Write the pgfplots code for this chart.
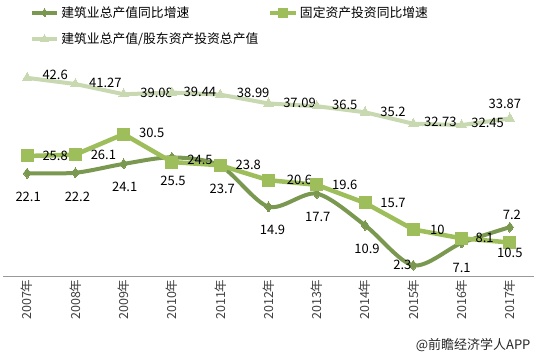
\documentclass[border=0pt]{standalone}
\usepackage{pgfplots}
\pgfplotsset{compat=1.18}
\usepackage{pgfplotstable}
\usepackage{fontspec}
\setmainfont{Noto Sans CJK SC}
\definecolor{cdark}{HTML}{7A9850}
\definecolor{cfix}{HTML}{9EBE5C}
\definecolor{ctop}{HTML}{C8D8B0}
\definecolor{ctick}{HTML}{404040}

\pgfplotstableread{
x y lab dx dy
0 22.1 22.1 1 -24
1 22.2 22.2 2 -24
2 24.1 24.1 1 -23
3 25.5 25.5 1 -23
4 23.7 23.7 2 -23
5 14.9 14.9 4 -23
6 17.7 17.7 1 -23
7 10.9 10.9 2 -24
8 2.3 2.3 -11 0
9 7.1 7.1 0 -25
10 10.5 7.2 2 12
}\dark
\pgfplotstableread{
x y lab dx dy
0 25.8 25.8 28 0
1 26.1 26.1 28 0
2 30.5 30.5 28 1
3 24.5 24.5 28 2
4 23.8 23.8 28 0
5 20.6 20.6 31 0
6 19.6 19.6 28 0
7 15.7 15.7 28 0
8 10 10 24 0
9 8.1 8.1 23 0
10 7.2 10.5 0 -10
}\fix
\pgfplotstableread{
x y lab dx dy
0 42.6 42.6 28 3
1 41.27 41.27 30 1
2 39.08 39.08 33 1
3 39.44 39.44 28 1
4 38.99 38.99 33 2
5 37.09 37.09 31 1
6 36.5 36.5 28 1
7 35.2 35.2 28 0
8 32.73 32.73 27 2
9 32.45 32.45 26 2
10 33.87 33.87 -5 15
}\topser

\begin{document}
\begin{tikzpicture}
\useasboundingbox (0,0) rectangle (539pt,356pt);
\begin{axis}[
  at={(3pt,80pt)}, anchor=south west,
  scale only axis, width=531pt, height=220pt,
  xmin=-0.5, xmax=10.5, ymin=0, ymax=47.3,
  axis x line=bottom, axis y line=none,
  x axis line style={draw=gray!80, -, line width=0.8pt},
  xtick={0,...,10},
  xticklabels={2007年,2008年,2009年,2010年,2011年,2012年,2013年,2014年,2015年,2016年,2017年},
  xticklabel style={rotate=90, anchor=east, font=\fontsize{12.5}{14}\selectfont, text=ctick},
  major tick length=0pt,
  clip=false,
  nodes near coords,
  point meta=explicit symbolic,
  visualization depends on={\thisrow{dx} \as \dx},
  visualization depends on={\thisrow{dy} \as \dy},
  every node near coord/.append style={anchor=center, xshift=\dx pt, yshift=\dy pt, font=\fontsize{13}{15}\selectfont, text=black, inner sep=0pt},
  legend columns=2,
  legend cell align=left,
  legend style={draw=none, fill=none, at={(axis description cs:0.05,1.235)}, anchor=north west, font=\fontsize{12.8}{15}\selectfont, inner sep=0pt, row sep=10pt, /tikz/every even column/.append style={column sep=8pt}},
  legend image code/.code={\draw[mark repeat=2,mark phase=2] plot coordinates {(0cm,0cm) (0.45cm,0cm) (0.9cm,0cm)};},
]
\addplot[forget plot, color=ctop, line width=4pt, mark=triangle*, mark size=5.5pt, mark options={solid, fill=ctop, draw=ctop, line width=0pt}] table[x=x, y=y, meta=lab] {\topser};
\addplot[forget plot, color=cdark, line width=4pt, smooth, tension=0.5, mark=diamond*, mark size=5pt, mark options={solid, fill=cdark, draw=cdark, line width=0pt}] table[x=x, y=y, meta=lab] {\dark};
\addplot[forget plot, color=cfix, line width=4.5pt, mark=square*, mark size=6pt, mark options={solid, fill=cfix, draw=cfix, line width=0pt}] table[x=x, y=y, meta=lab] {\fix};
\addlegendimage{color=cdark, line width=4pt, mark=diamond*, mark size=4pt, mark options={solid, fill=cdark, draw=cdark, line width=0pt}}
\addlegendentry{建筑业总产值同比增速}
\addlegendimage{color=cfix, line width=4pt, mark=square*, mark size=4.5pt, mark options={solid, fill=cfix, draw=cfix, line width=0pt}}
\addlegendentry{固定资产投资同比增速}
\addlegendimage{color=ctop, line width=4pt, mark=triangle*, mark size=4.5pt, mark options={solid, fill=ctop, draw=ctop, line width=0pt}}
\addlegendentry{建筑业总产值/股东资产投资总产值}
\node[anchor=east, font=\fontsize{13}{15}\selectfont, text=black!85] at (axis description cs:1.0,-0.315) {@前瞻经济学人APP};
\end{axis}
\end{tikzpicture}
\end{document}
